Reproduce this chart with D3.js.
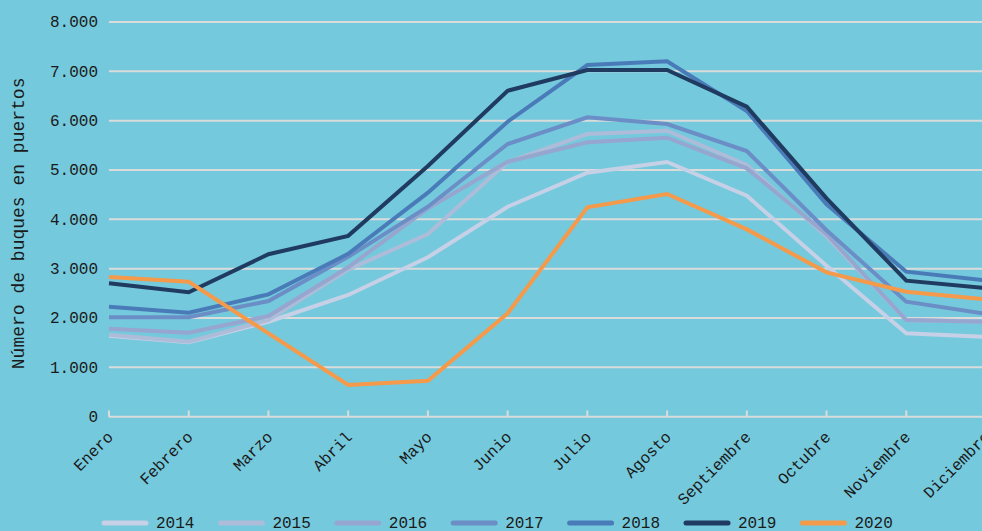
<!DOCTYPE html>
<html>
<head>
<meta charset="utf-8">
<script src="https://cdn.jsdelivr.net/npm/d3@7"></script>
<style>
  html, body { margin: 0; padding: 0; background: #75c9dc; }
  svg { display: block; font-family: "Liberation Mono", "DejaVu Sans Mono", monospace; }
</style>
</head>
<body>
<svg id="chart" width="982" height="531"></svg>
<script>
// months and values per year
var months = ["Enero","Febrero","Marzo","Abril","Mayo","Junio","Julio","Agosto","Septiembre","Octubre","Noviembre","Diciembre"];
var years = ["2014","2015","2016","2017","2018","2019","2020"];
var v2014 = [1640, 1510, 1925, 2467, 3231, 4256, 4946, 5162, 4479, 3060, 1690, 1615];
var v2015 = [1660, 1520, 1960, 2980, 3703, 5160, 5730, 5797, 5101, 3650, 1960, 1930];
var v2016 = [1784, 1703, 2040, 3028, 4224, 5168, 5562, 5655, 5034, 3700, 1960, 1920];
var v2017 = [2014, 2014, 2345, 3240, 4256, 5527, 6068, 5932, 5385, 3780, 2331, 2085];
var v2018 = [2230, 2108, 2480, 3300, 4540, 5979, 7127, 7203, 6196, 4305, 2939, 2760];
var v2019 = [2704, 2521, 3293, 3665, 5081, 6607, 7026, 7026, 6283, 4426, 2757, 2605];
var v2020 = [2831, 2736, 1690, 642, 730, 2096, 4244, 4514, 3797, 2926, 2534, 2380];
var yTicks = [0, 1000, 2000, 3000, 4000, 5000, 6000, 7000, 8000];
var colors = ["#c6d0e6", "#adbcd9", "#96a6cf", "#6b8ec6", "#4a7bb9", "#203b60", "#f5994a"];

var series = [v2014, v2015, v2016, v2017, v2018, v2019, v2020].map(function(vals, i) {
	return { year: years[i], color: colors[i], values: vals };
});

var svg = d3.select("#chart");

var x = d3.scalePoint().domain(months).range([109, 986]);
var y = d3.scaleLinear().domain([0, 8000]).range([416.7, 22]);

var fmt = function(d) { return d3.format(",")(d).replace(/,/g, "."); };

// gridlines
svg.append("g").selectAll("line.grid")
	.data(yTicks)
	.enter().append("line")
	.attr("x1", 109).attr("x2", 990)
	.attr("y1", function(d) { return y(d); })
	.attr("y2", function(d) { return y(d); })
	.attr("stroke", "#dadcdc")
	.attr("stroke-width", 2);

// y labels
svg.append("g").selectAll("text")
	.data(yTicks)
	.enter().append("text")
	.attr("x", 98)
	.attr("y", function(d) { return y(d); })
	.attr("dy", "0.34em")
	.attr("text-anchor", "end")
	.attr("font-size", "16px")
	.attr("fill", "#1a1a1a")
	.text(fmt);

// x axis ticks (pointing up from the zero line)
svg.append("g").selectAll("line.tick")
	.data(months)
	.enter().append("line")
	.attr("x1", function(d) { return x(d); })
	.attr("x2", function(d) { return x(d); })
	.attr("y1", 410.5).attr("y2", 417)
	.attr("stroke", "#dadcdc")
	.attr("stroke-width", 2);

svg.append("g").selectAll("text")
	.data(months)
	.enter().append("text")
	.attr("text-anchor", "end")
	.attr("font-size", "16px")
	.attr("fill", "#1a1a1a")
	.attr("transform", function(d) { return "translate(" + (x(d) + 1) + ",434) rotate(-45)"; })
	.attr("dy", "0.35em")
	.text(function(d) { return d; });

// axis title
svg.append("text")
	.attr("transform", "translate(24," + ((y(0) + y(8000)) / 2 + 4) + ") rotate(-90)")
	.attr("text-anchor", "middle")
	.attr("font-size", "18px")
	.attr("fill", "#1a1a1a")
	.text("Número de buques en puertos");

// lines
var line = d3.line()
	.x(function(d, i) { return x(months[i]); })
	.y(function(d) { return y(d); });

svg.append("g").selectAll("path")
	.data(series)
	.enter().append("path")
	.attr("d", function(s) { return line(s.values); })
	.attr("fill", "none")
	.attr("stroke", function(s) { return s.color; })
	.attr("stroke-width", 4)
	.attr("stroke-linejoin", "miter");

// legend
var legend = svg.append("g").selectAll("g")
	.data(series)
	.enter().append("g")
	.attr("transform", function(s, i) { return "translate(" + (104 + i * 116.4) + ",523)"; });

legend.append("line")
	.attr("x1", 0).attr("x2", 42)
	.attr("stroke", function(s) { return s.color; })
	.attr("stroke-width", 5)
	.attr("stroke-linecap", "round");

legend.append("text")
	.attr("x", 52)
	.attr("dy", "0.34em")
	.attr("font-size", "16px")
	.attr("fill", "#1a1a1a")
	.text(function(s) { return s.year; });
</script>
</body>
</html>
